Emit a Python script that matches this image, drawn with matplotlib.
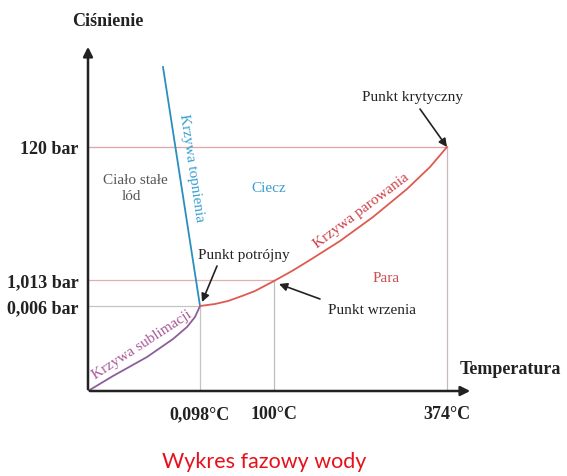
import matplotlib
matplotlib.use('Agg')
import matplotlib.pyplot as plt

# schematic phase diagram of water, coordinates in diagram units
t_ticks = [112, 186, 359]
t_labels = ['0,098°C', '100°C', '374°C']
p_ticks = [85, 111, 244]
p_labels = ['0,006 bar', '1,013 bar', '120 bar']

triple = (112, 85)
boiling = (186, 111)
critical = (359, 244)

melt_t = [112, 75]
melt_p = [85, 324]

subl_t = [0, 25, 59, 85, 99, 107, 112]
subl_p = [0, 15, 34, 52, 64, 74, 85]

vap_t = [112, 127, 140, 154, 167, 186, 204, 222, 252, 285, 319, 342, 359]
vap_p = [85, 87, 90, 95, 100, 110, 120, 131, 150, 174, 202, 224, 244]

serif = 'Liberation Serif'

fig = plt.figure(figsize=(5.67, 4.77), dpi=100)
ax = fig.add_axes([88 / 567, 85 / 477, 385 / 567, 347 / 477])
ax.set_xlim(0, 385)
ax.set_ylim(0, 347)
for s in ax.spines.values():
    s.set_visible(False)

# guide lines
ax.plot([0, critical[0]], [critical[1], critical[1]], color='#e2a4a4', lw=0.9)
ax.plot([critical[0], critical[0]], [0, critical[1]], color='#cbb9b9', lw=0.9)
ax.plot([0, boiling[0]], [boiling[1], boiling[1]], color='#e2b0b0', lw=0.9)
ax.plot([boiling[0], boiling[0]], [0, boiling[1]], color='#c4bcbc', lw=0.9)
ax.plot([0, triple[0]], [triple[1], triple[1]], color='#c4c4c4', lw=0.9)
ax.plot([triple[0], triple[0]], [0, triple[1]], color='#c4c4c4', lw=0.9)

# phase boundaries
ax.plot(melt_t, melt_p, color='#2a8fbf', lw=1.3)
ax.plot(subl_t, subl_p, color='#8c5f9c', lw=1.3)
ax.plot(vap_t, vap_p, color='#de5a52', lw=1.3)

# axes with arrows
ax.annotate('', xy=(0, 347), xytext=(0, -1),
            arrowprops=dict(arrowstyle='-|>', color='#222222', lw=1.8, mutation_scale=14))
ax.annotate('', xy=(385, 0), xytext=(-1, 0),
            arrowprops=dict(arrowstyle='-|>', color='#222222', lw=1.8, mutation_scale=14))

ax.set_xticks(t_ticks, t_labels)
ax.set_yticks(p_ticks, p_labels)
ax.tick_params(length=0)
ax.tick_params(axis='x', pad=10)
ax.tick_params(axis='y', pad=7)
for lab in ax.get_xticklabels() + ax.get_yticklabels():
    lab.set_fontfamily(serif)
    lab.set_fontsize(13)
    lab.set_fontweight('bold')
    lab.set_color('#222222')

ax.text(20, 371, 'Ciśnienie', fontfamily=serif, fontsize=13, fontweight='bold',
        color='#222222', ha='center', va='center')
ax.text(422, 22, 'Temperatura', fontfamily=serif, fontsize=13, fontweight='bold',
        color='#222222', ha='center', va='center')

# region labels
ax.text(47, 212, 'Ciało stałe', fontfamily=serif, fontsize=11, color='#555555',
        ha='center', va='center')
ax.text(43, 195, 'lód', fontfamily=serif, fontsize=11, color='#555555',
        ha='center', va='center')
ax.text(181, 204, 'Ciecz', fontfamily=serif, fontsize=11, color='#3a9ccc',
        ha='center', va='center')
ax.text(298, 114, 'Para', fontfamily=serif, fontsize=11, color='#c9504f',
        ha='center', va='center')

# curve labels
ax.text(103, 224, 'Krzywa topnienia', fontfamily=serif, fontsize=11, color='#3aa0d0',
        rotation=-81.5, ha='center', va='center', rotation_mode='anchor')
ax.text(273, 181, 'Krzywa parowania', fontfamily=serif, fontsize=11, color='#cc4048',
        rotation=37, ha='center', va='center', rotation_mode='anchor')
ax.text(54, 47, 'Krzywa sublimacji', fontfamily=serif, fontsize=11, color='#a85a98',
        rotation=33, ha='center', va='center', rotation_mode='anchor')

# point annotations
arrow = dict(arrowstyle='-|>', color='#222222', lw=1.2, mutation_scale=12, shrinkA=0, shrinkB=0)
ax.annotate('', xy=critical, xytext=(332, 282), arrowprops=arrow)
ax.text(325, 294, 'Punkt krytyczny', fontfamily=serif, fontsize=11, color='#222222',
        ha='center', va='center')
ax.annotate('', xy=(114, 89), xytext=(129, 125), arrowprops=arrow)
ax.text(156, 137, 'Punkt potrójny', fontfamily=serif, fontsize=11, color='#222222',
        ha='center', va='center')
ax.annotate('', xy=(191, 107), xytext=(232, 92), arrowprops=arrow)
ax.text(284, 81, 'Punkt wrzenia', fontfamily=serif, fontsize=11, color='#222222',
        ha='center', va='center')

fig.text(264 / 567, 1 - 462 / 477, 'Wykres fazowy wody', fontfamily='Lato', fontsize=15.5,
         color='#e8101a', ha='center', va='center')

fig.savefig('out.png', dpi=100)
